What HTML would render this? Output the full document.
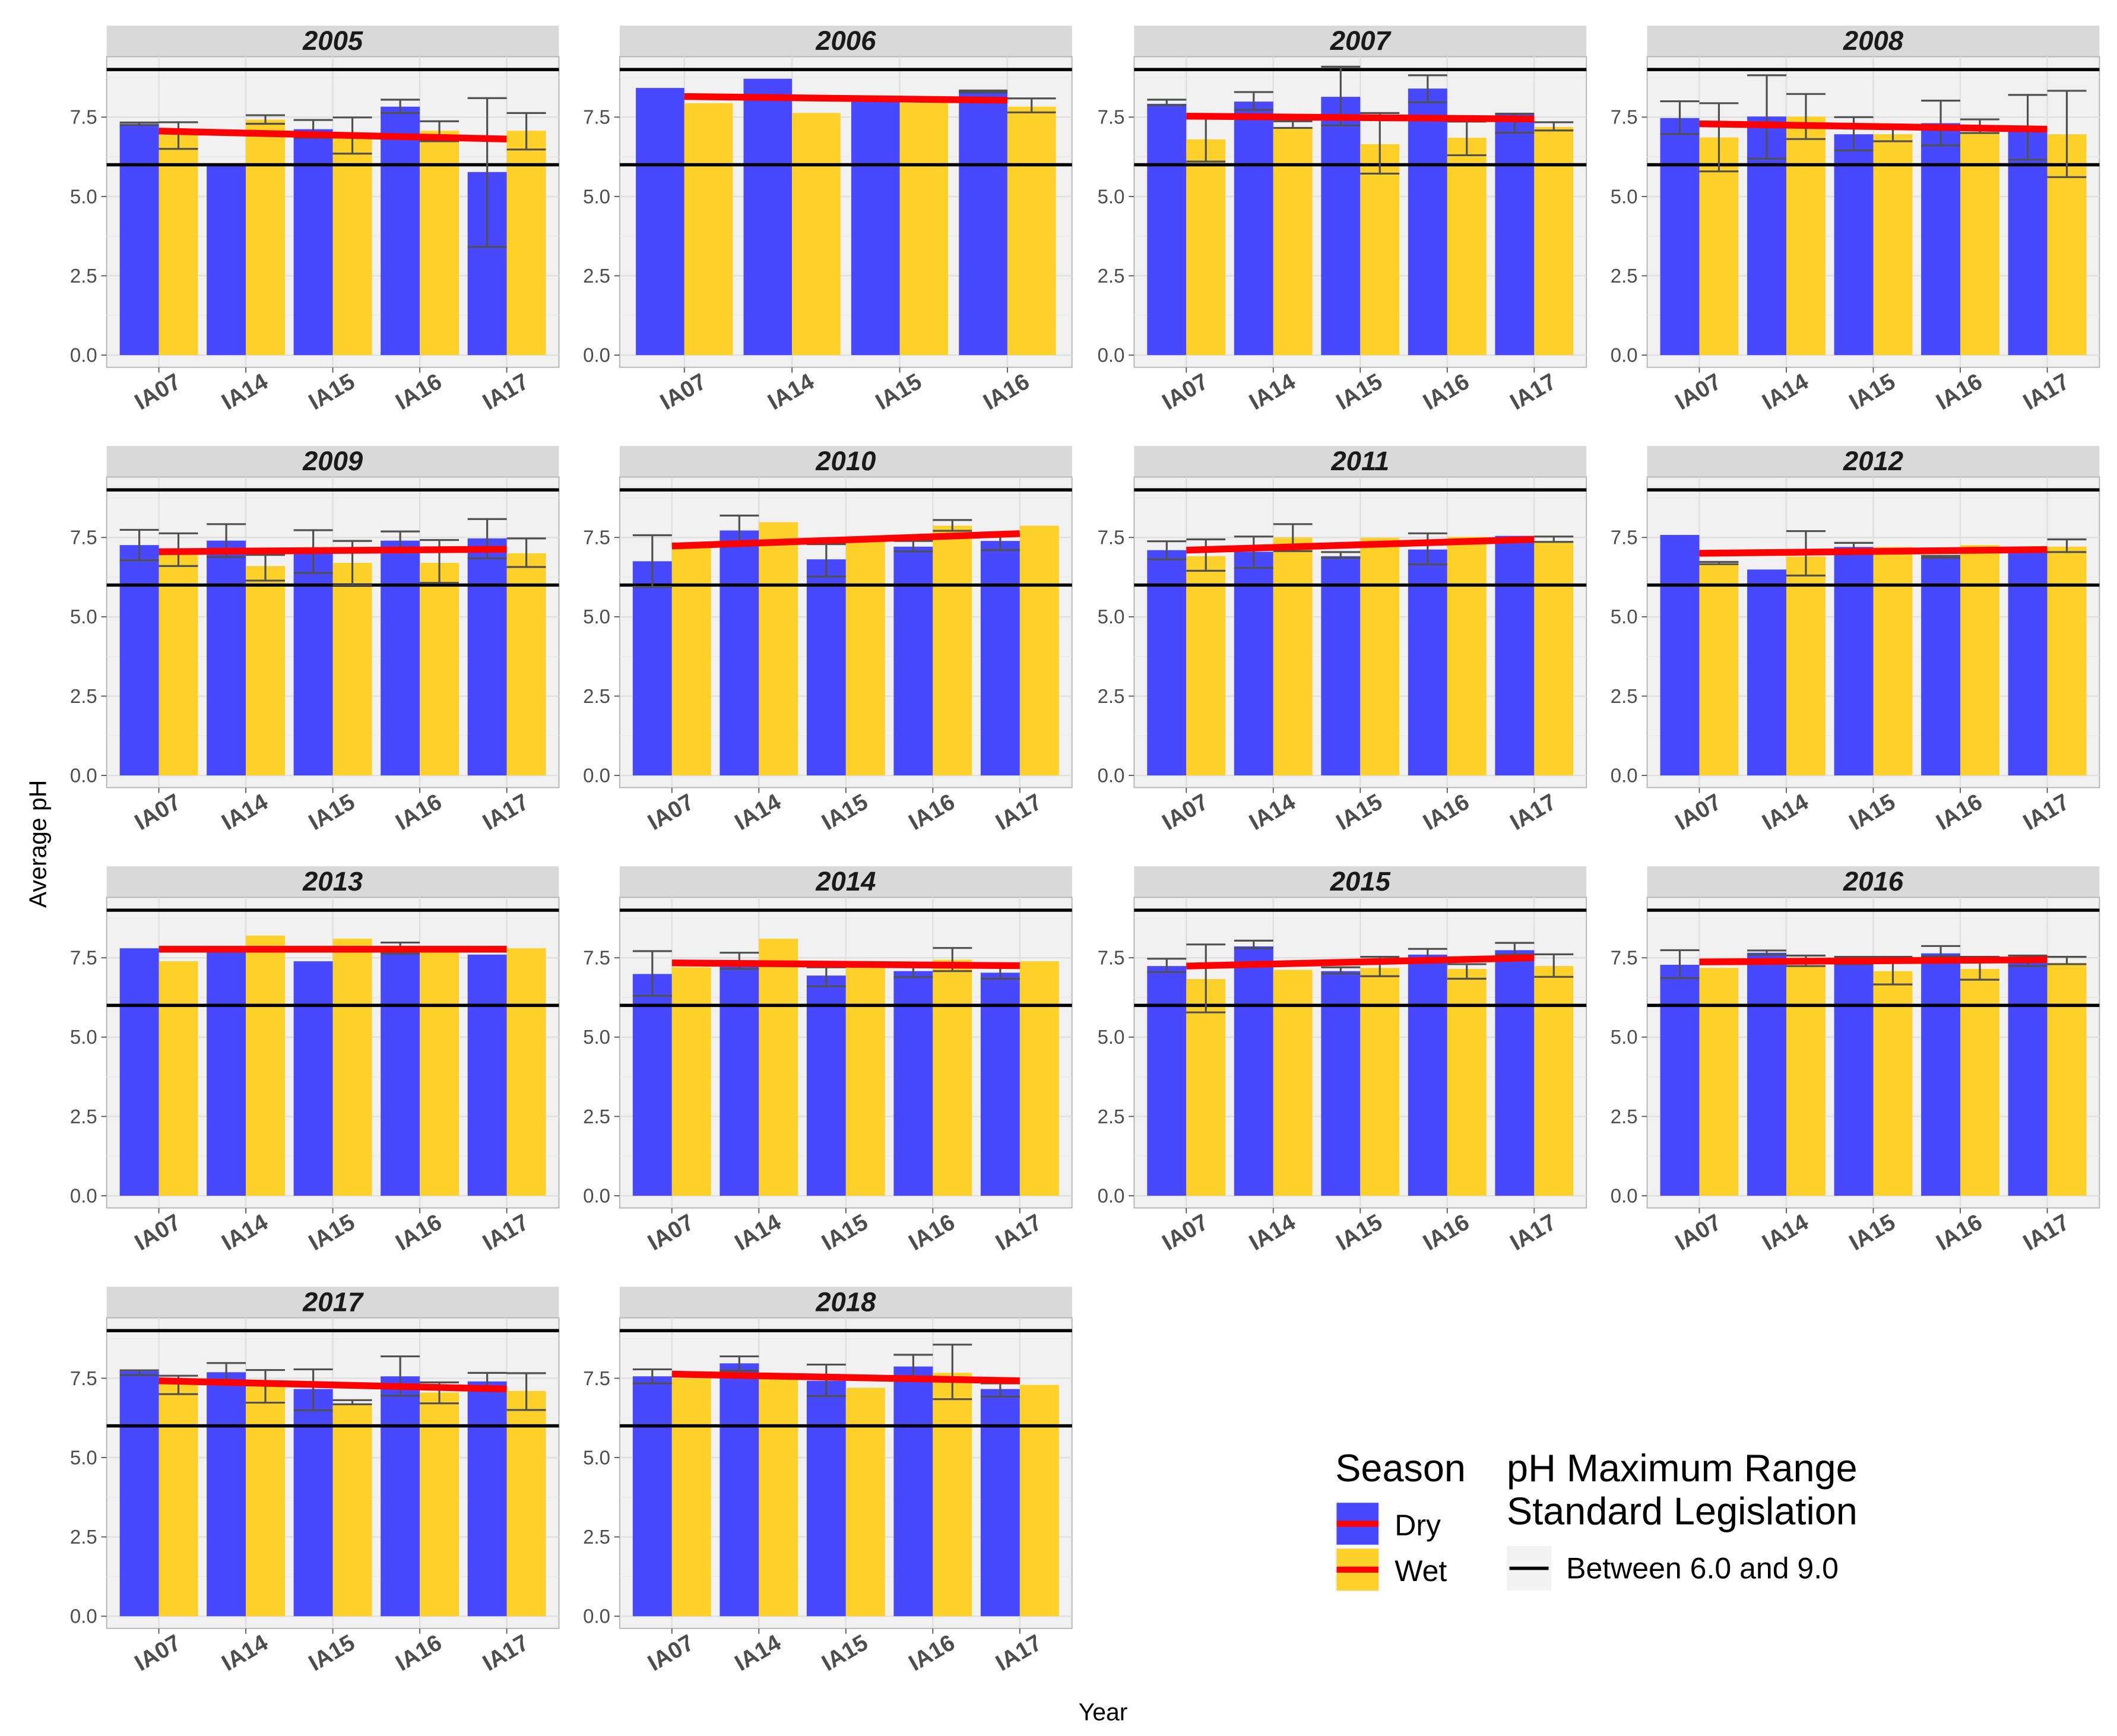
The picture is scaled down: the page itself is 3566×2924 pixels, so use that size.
<!DOCTYPE html>
<html><head><meta charset="utf-8"><style>
html,body{margin:0;padding:0;background:#fff;}
svg{display:block;font-family:"Liberation Sans",sans-serif;}
</style></head><body>
<svg id="chart" width="3566" height="2924" viewBox="0 0 1568 1285.7" xmlns="http://www.w3.org/2000/svg">
<text x="0" y="0" transform="translate(34,625) rotate(-90)" text-anchor="middle" font-size="18" fill="#000">Average pH</text>
<text x="817" y="1274" text-anchor="middle" font-size="18" fill="#000">Year</text>
<g>
<text x="989" y="1097" font-size="28.5" fill="#000">Season</text>
<rect x="989" y="1112" width="33" height="33" fill="#f2f2f2"/>
<rect x="990" y="1113" width="31" height="31" fill="#4848ff"/>
<line x1="990" y1="1128.5" x2="1021" y2="1128.5" stroke="#ff0000" stroke-width="4.5"/>
<text x="1033" y="1137" font-size="22" fill="#000">Dry</text>
<rect x="989" y="1146" width="33" height="33" fill="#f2f2f2"/>
<rect x="990" y="1147" width="31" height="31" fill="#fdd02a"/>
<line x1="990" y1="1162.5" x2="1021" y2="1162.5" stroke="#ff0000" stroke-width="4.5"/>
<text x="1033" y="1171" font-size="22" fill="#000">Wet</text>
<text x="1116" y="1097" font-size="28.5" fill="#000">pH Maximum Range</text>
<text x="1116" y="1129" font-size="28.5" fill="#000">Standard Legislation</text>
<rect x="1116" y="1145" width="33" height="33" fill="#f2f2f2"/>
<line x1="1118" y1="1161.5" x2="1147" y2="1161.5" stroke="#000" stroke-width="2.5"/>
<text x="1160" y="1169" font-size="22" fill="#000">Between 6.0 and 9.0</text>
</g>
<g id="panels"></g>
</svg>
<script>
const years = [2005,2006,2007,2008,2009,2010,2011,2012,2013,2014,2015,2016,2017,2018];
const sites5 = ["IA07","IA14","IA15","IA16","IA17"];
const sites4 = ["IA07","IA14","IA15","IA16"];
const dryMean = [[7.29,6.0,7.12,7.83,5.77],[8.42,8.71,8.0,8.31],[7.92,7.99,8.14,8.40,7.6],[7.47,7.52,6.96,7.31,7.05],
 [7.26,7.40,7.0,7.40,7.47],[6.75,7.72,6.81,7.21,7.39],[7.10,7.05,6.91,7.12,7.55],[7.58,6.49,7.2,6.89,7.1],
 [7.80,7.8,7.39,7.85,7.60],[6.99,7.3,6.94,7.08,7.03],[7.24,7.86,7.08,7.60,7.74],[7.28,7.66,7.4,7.64,7.45],
 [7.72,7.69,7.16,7.56,7.40],[7.56,7.97,7.42,7.87,7.16]];
const dryLo = [[7.25,null,6.85,7.63,3.41],[null,null,null,8.28],[7.88,7.73,7.24,7.97,7.01],[6.97,6.19,6.45,6.61,6.16],
 [6.78,6.88,6.38,7.05,6.84],[5.94,7.3,6.27,7.06,7.1],[6.81,6.54,6.86,6.65,null],[null,null,7.12,6.86,null],
 [null,null,null,7.63,null],[6.30,7.15,6.6,6.89,6.84],[7.05,7.8,7.0,7.45,7.6],[6.86,7.6,7.3,7.55,7.24],
 [7.60,7.4,6.49,6.95,7.2],[7.34,7.74,6.94,7.5,6.92]];
const dryHi = [[7.33,null,7.41,8.05,8.1],[null,null,null,8.34],[8.05,8.29,9.09,8.82,7.61],[8.0,8.82,7.5,8.02,8.2],
 [7.74,7.92,7.73,7.69,8.08],[7.57,8.19,7.29,7.39,7.55],[7.38,7.53,7.04,7.63,null],[null,null,7.33,6.92,null],
 [null,null,null,7.98,null],[7.71,7.66,7.2,7.25,7.2],[7.47,8.04,7.2,7.78,7.97],[7.74,7.73,7.53,7.87,7.57],
 [7.75,7.98,7.78,8.19,7.67],[7.78,8.19,7.93,8.24,7.34]];
const wetMean = [[6.94,7.42,6.9,7.07,7.07],[7.94,7.63,7.95,7.83],[6.80,7.18,6.65,6.85,7.19],[6.86,7.52,6.96,7.03,6.96],
 [6.98,6.60,6.70,6.70,7.0],[7.2,7.98,7.4,7.87,7.87],[6.91,7.50,7.49,7.52,7.39],[6.68,6.9,7.2,7.26,7.21],
 [7.39,8.20,8.10,7.75,7.80],[7.2,8.10,7.25,7.44,7.39],[6.83,7.12,7.18,7.15,7.24],[7.18,7.24,7.08,7.15,7.34],
 [7.31,7.24,6.70,7.05,7.10],[7.50,7.47,7.20,7.67,7.29]];
const wetLo = [[6.50,7.29,6.35,6.74,6.48],[null,null,null,7.65],[6.1,7.16,5.72,6.30,7.08],[5.79,6.81,6.74,7.0,5.61],
 [6.60,6.14,6.0,6.07,6.57],[null,null,null,7.71,null],[6.45,7.07,null,null,7.36],[6.66,6.30,null,null,7.04],
 [null,null,null,null,null],[null,null,null,7.08,null],[5.78,null,6.92,6.84,6.90],[null,7.24,6.66,6.81,7.3],
 [7.0,6.73,6.68,6.71,6.50],[null,null,null,6.84,null]];
const wetHi = [[7.34,7.56,7.49,7.37,7.63],[null,null,null,8.09],[7.47,7.37,7.63,7.36,7.34],[7.94,8.23,7.14,7.43,8.33],
 [7.63,6.95,7.39,7.42,7.47],[null,null,null,8.05,null],[7.44,7.92,null,null,7.53],[6.73,7.70,null,null,7.44],
 [null,null,null,null,null],[null,null,null,7.81,null],[7.92,7.57,7.53,7.3,7.61],[null,7.57,7.53,7.53,7.53],
 [7.58,7.76,6.81,7.37,7.66],[null,null,null,8.56,null]];
const trendStart = [7.06,8.15,7.53,7.29,7.05,7.23,7.10,7.0,7.77,7.34,7.24,7.37,7.42,7.63];
const trendEnd = [6.81,8.03,7.44,7.12,7.13,7.62,7.44,7.12,7.77,7.25,7.50,7.44,7.16,7.42];
const yTicks = ["0.0","2.5","5.0","7.5"];

const NS="http://www.w3.org/2000/svg";
const root=document.getElementById('panels');
function mk(tag,attrs,parent){const e=document.createElementNS(NS,tag);for(const k in attrs)e.setAttribute(k,attrs[k]);(parent||root).appendChild(e);return e;}
const colX=[79,459,840,1220], rowY=[19,330.3,641.6,953], PW=335, SH=23, PH=230;
years.forEach((yr,i)=>{
  const col=i%4,row=Math.floor(i/4);
  const x0=colX[col], st=rowY[row], pt=st+SH;
  const sites = dryMean[i].length===4?sites4:sites5;
  const n=sites.length, step=PW/(n-1+1.2);
  const xc=k=>x0+step*(0.6+k);
  const y0=pt+221, ppu=23.5;
  const ys=v=>y0-v*ppu;
  const g=mk('g',{});
  
  
  const strip=mk('rect',{x:x0,y:st,width:PW,height:SH,fill:'#d9d9d9'},g);
  
  
  const stxt=mk('text',{x:x0+PW/2,y:st+18,'text-anchor':'middle','font-size':'20','font-weight':'bold','font-style':'italic',fill:'#1a1a1a'},g);
  stxt.textContent=yr;
  
  
  mk('rect',{x:x0,y:pt,width:PW,height:PH,fill:'#f1f1f1',stroke:'#b3b3b3','stroke-width':0.8},g);
  [1.25,3.75,6.25,8.75].forEach(v=>mk('line',{x1:x0,x2:x0+PW,y1:ys(v),y2:ys(v),stroke:'#e9e9e9','stroke-width':0.6},g));
  [0,2.5,5,7.5].forEach((v,j)=>{
    mk('line',{x1:x0,x2:x0+PW,y1:ys(v),y2:ys(v),stroke:'#e0e0e0','stroke-width':1.1},g);
    mk('line',{x1:x0-4,x2:x0,y1:ys(v),y2:ys(v),stroke:'#555','stroke-width':0.8},g);
    const t=mk('text',{x:x0-7,y:ys(v)+5,'text-anchor':'end','font-size':'14.5',fill:'#4d4d4d'},g);
    t.textContent=yTicks[j];
    
    
  });
  sites.forEach((s,k)=>{
    mk('line',{x1:xc(k),x2:xc(k),y1:pt,y2:pt+PH,stroke:'#e0e0e0','stroke-width':1.1},g);
    mk('line',{x1:xc(k),x2:xc(k),y1:pt+PH,y2:pt+PH+4,stroke:'#555','stroke-width':0.8},g);
  });
  const bw=step*0.45;
  sites.forEach((s,k)=>{
    const b1=mk('rect',{x:xc(k)-bw,y:ys(dryMean[i][k]),width:bw,height:ys(0)-ys(dryMean[i][k]),fill:'#4848ff'},g);
    
    
    const b2=mk('rect',{x:xc(k),y:ys(wetMean[i][k]),width:bw,height:ys(0)-ys(wetMean[i][k]),fill:'#fdd02a'},g);
    
    
  });
  mk('line',{x1:x0,x2:x0+PW,y1:ys(9),y2:ys(9),stroke:'#000','stroke-width':2.4},g);
  mk('line',{x1:x0,x2:x0+PW,y1:ys(6),y2:ys(6),stroke:'#000','stroke-width':2.4},g);
  function eb(cx,lo,hi,name){
    if(lo===null||hi===null)return;
    const e=mk('g',{stroke:'#505050','stroke-width':1.4},g);
    
    
    mk('line',{x1:cx,x2:cx,y1:ys(hi),y2:ys(lo)},e);
    mk('line',{x1:cx-bw/2,x2:cx+bw/2,y1:ys(hi),y2:ys(hi)},e);
    mk('line',{x1:cx-bw/2,x2:cx+bw/2,y1:ys(lo),y2:ys(lo)},e);
  }
  sites.forEach((s,k)=>{
    eb(xc(k)-bw/2,dryLo[i][k],dryHi[i][k],'errorbar-dry-'+s);
    eb(xc(k)+bw/2,wetLo[i][k],wetHi[i][k],'errorbar-wet-'+s);
  });
  const tl=mk('line',{x1:xc(0),x2:xc(n-1),y1:ys(trendStart[i]),y2:ys(trendEnd[i]),stroke:'#ff0000','stroke-width':5},g);
  
  
  sites.forEach((s,k)=>{
    const t=mk('text',{x:0,y:0,'text-anchor':'middle','font-size':'17','font-weight':'bold',fill:'#4d4d4d',transform:`translate(${xc(k)+2},${pt+PH+23}) rotate(-30)`},g);
    t.textContent=s;
    
    
  });
});
</script>
</body></html>
